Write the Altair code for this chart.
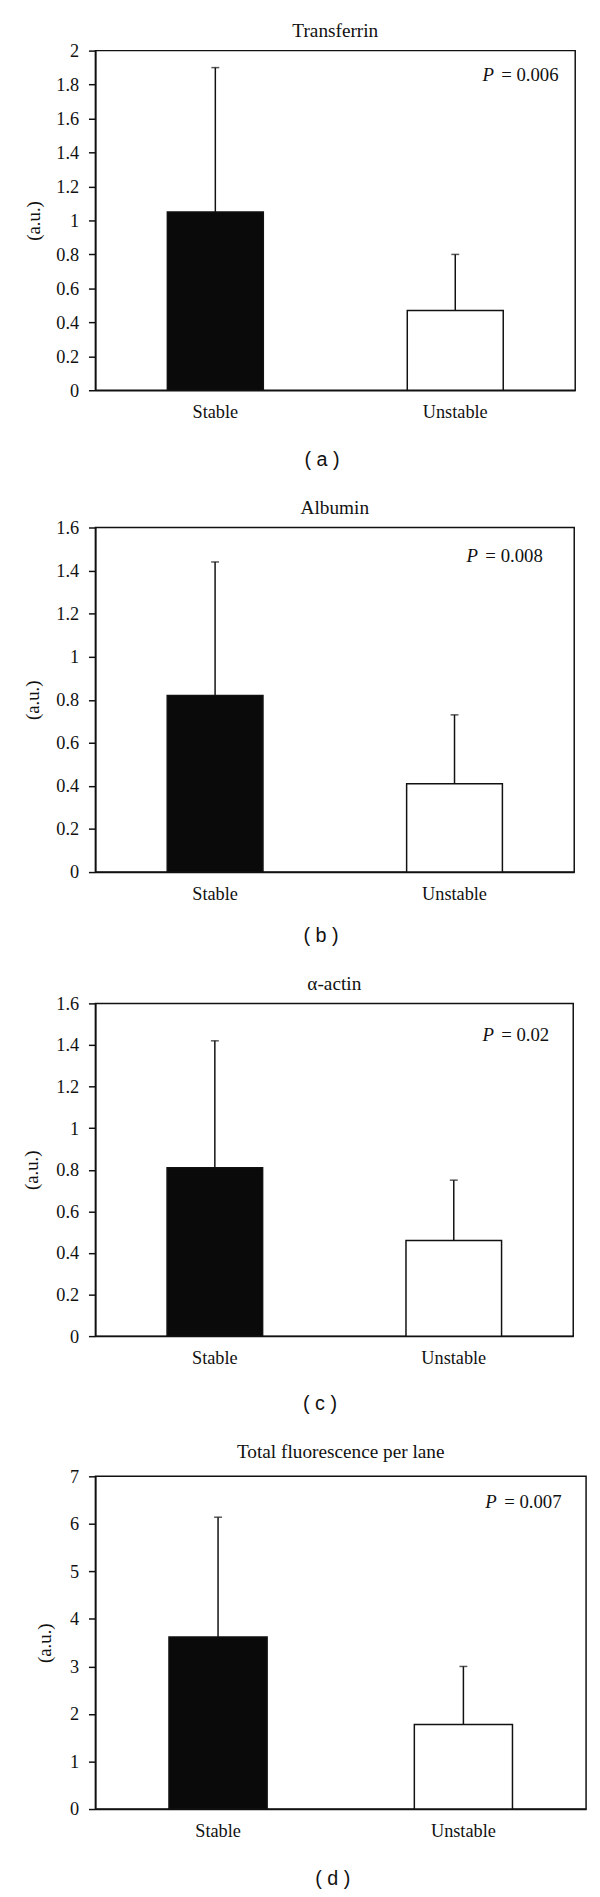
import altair as alt
import pandas as pd

# ---- data ----
groups = ["Stable", "Unstable"]
titles = ["Transferrin", "Albumin", "α-actin", "Total fluorescence per lane"]
captions = ["( a )", "( b )", "( c )", "( d )"]
means_a = [1.05, 0.47]
upper_a = [1.90, 0.80]
means_b = [0.82, 0.41]
upper_b = [1.44, 0.73]
means_c = [0.81, 0.46]
upper_c = [1.42, 0.75]
means_d = [3.62, 1.78]
upper_d = [6.14, 3.00]
p_values = ["= 0.006", "= 0.008", "= 0.02", "= 0.007"]
y_max = [2, 1.6, 1.6, 7]
ticks_a = [0, 0.2, 0.4, 0.6, 0.8, 1, 1.2, 1.4, 1.6, 1.8, 2]
ticks_bc = [0, 0.2, 0.4, 0.6, 0.8, 1, 1.2, 1.4, 1.6]
ticks_d = [0, 1, 2, 3, 4, 5, 6, 7]

SERIF = "Liberation Serif"
INK = "#111111"

# layout (pixels)
extents = [40, 41, 42, 29]          # y-axis tick+label extent
lefts = [93, 94, 95, 82]            # resulting plot left edge on the page
widths = [579 - l for l in lefts]
heights = [344, 349, 337, 337]
title_off = [0, 0, 0, 5]
cap_pad = [29, 23, 27, 29]
p_pos = [(392, 25), (376, 29), (392, 32), (395, 26)]

panel_data = [
    (means_a, upper_a, ticks_a),
    (means_b, upper_b, ticks_bc),
    (means_c, upper_c, ticks_bc),
    (means_d, upper_d, ticks_d),
]


def make_panel(i):
    means, upper, tvals = panel_data[i]
    df = pd.DataFrame({"group": groups, "mean": means, "upper": upper})
    xscale = alt.Scale(domain=groups, paddingInner=0.6, paddingOuter=0.3)
    xaxis = alt.Axis(
        title=captions[i], labelAngle=0, ticks=False, labelPadding=13,
        titlePadding=cap_pad[i], titleFont="Liberation Sans", titleFontSize=20,
        titleFontWeight="normal", titleX=322 - lefts[i], titleAlign="center",
    )
    yscale = alt.Scale(domain=[0, y_max[i]], nice=False, zero=True)
    yaxis = alt.Axis(
        title="(a.u.)", values=tvals, format="~g", tickSize=7, labelPadding=10,
        titlePadding=12.5, minExtent=extents[i], maxExtent=extents[i],
    )
    X = alt.X("group:N", scale=xscale, axis=xaxis, sort=groups)
    bars = alt.Chart(df).mark_bar(stroke=INK, strokeWidth=1.5).encode(
        x=X,
        y=alt.Y("mean:Q", scale=yscale, axis=yaxis),
        fill=alt.Fill("group:N", scale=alt.Scale(domain=groups, range=["#0a0a0a", "#ffffff"]), legend=None),
    )
    rule = alt.Chart(df).mark_rule(strokeWidth=1.5, color=INK).encode(
        x=X, y=alt.Y("mean:Q", scale=yscale, axis=yaxis), y2="upper:Q"
    )
    cap = alt.Chart(df).mark_tick(thickness=1.5, size=8, color=INK, orient="horizontal").encode(
        x=X, y=alt.Y("upper:Q", scale=yscale, axis=yaxis)
    )
    pdf = pd.DataFrame({"p": ["P"], "rest": [p_values[i]]})
    px, py = p_pos[i]
    ptxt = alt.Chart(pdf).mark_text(
        font=SERIF, fontSize=19, fontStyle="italic", align="left", baseline="middle", color=INK
    ).encode(text="p:N", x=alt.value(px), y=alt.value(py))
    rtxt = alt.Chart(pdf).mark_text(
        font=SERIF, fontSize=19, align="left", baseline="middle", color=INK
    ).encode(text="rest:N", x=alt.value(px + 19), y=alt.value(py))
    return alt.layer(bars, rule, cap, ptxt, rtxt).properties(
        width=widths[i], height=heights[i],
        title=alt.TitleParams(titles[i], offset=title_off[i], font=SERIF, fontSize=19.5,
                              fontWeight="normal", color=INK, frame="group"),
    )


chart = alt.ConcatChart(
    concat=[make_panel(i) for i in range(4)], columns=1, align="none", spacing=26
).properties(
    padding={"left": 13.5, "top": 0, "right": 5, "bottom": 2},
    background="white",
).configure_view(
    stroke=INK, strokeWidth=1.5
).configure_axis(
    grid=False, domainColor=INK, domainWidth=1.5, tickColor=INK, tickWidth=1.5,
    labelFont=SERIF, labelFontSize=18.5, labelColor=INK,
    titleFont=SERIF, titleFontSize=19, titleFontWeight="normal", titleColor=INK,
)

chart.save("out.html", embed_options={"renderer": "svg", "actions": False})
